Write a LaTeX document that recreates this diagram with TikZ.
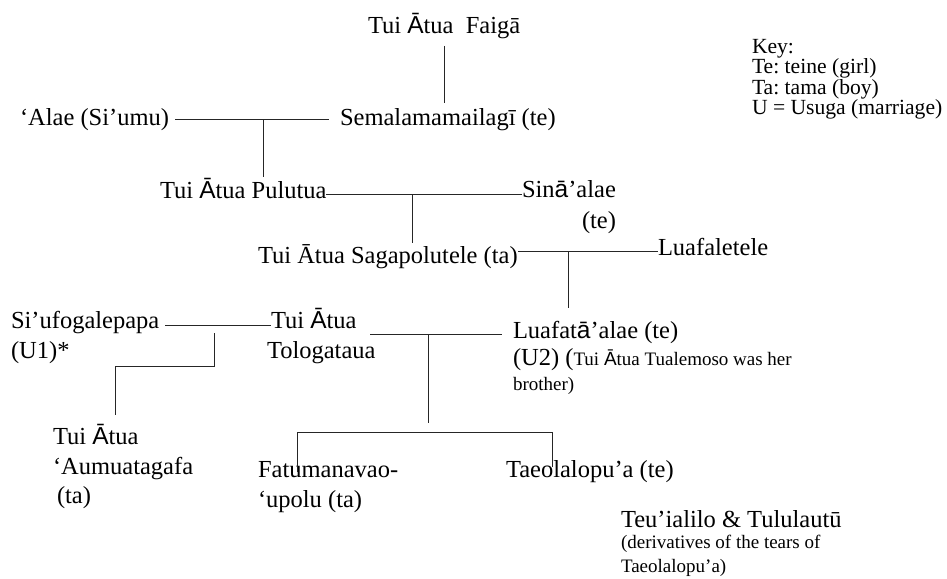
\documentclass[tikz,border=0pt]{standalone}
\usepackage{fontspec}
\setmainfont{Liberation Serif}
\newfontfamily\sa{Liberation Sans}
\newcommand\mainsz{\fontsize{24.5}{30}\selectfont}
\newcommand\keysz{\fontsize{21.6}{20}\selectfont}
\newcommand\smsz{\fontsize{19}{22}\selectfont}
\frenchspacing
\begin{document}
\begin{tikzpicture}[x=1pt,y=-1pt,
  txt/.style={anchor=base west, inner sep=0pt, outer sep=0pt, font=\mainsz},
  keytxt/.style={anchor=base west, inner sep=0pt, outer sep=0pt, font=\keysz},
  smtxt/.style={anchor=base west, inner sep=0pt, outer sep=0pt, font=\smsz},
  link/.style={line width=0.9pt, draw=black!85}]
\useasboundingbox[fill=white] (0,0) rectangle (947,578);

% people
\node[txt] (faiga) at (368,34) {Tui {\sa Ā}tua\ \ Faigā};
\node[txt] (semala) at (340,125) {Semalamamailagī (te)};
\node[txt] (alae) at (20,125) {‘Alae (Si’umu)};
\node[txt] (pulu) at (160,198) {Tui {\sa Ā}tua Pulutua};
\node[txt] (sina) at (522,197) {Sin{\sa ā}’alae};
\node[txt] (sinab) at (582,228) {(te)};
\node[txt] (saga) at (258,263) {Tui Ātua Sagapolutele (ta)};
\node[txt] (luafa) at (658,255) {Luafaletele};
\node[txt] (siuf) at (11,328) {Si’ufogalepapa};
\node[txt] (siufb) at (11,358) {(U1)*};
\node[txt] (tolo) at (271,328) {Tui {\sa Ā}tua};
\node[txt] (tolob) at (267,358) {Tologataua};
\node[txt] (luat) at (513,338) {Luafat{\sa ā}’alae (te)};
\node[txt] (luatb) at (513,365) {(U2) ({\smsz Tui {\sa Ā}tua Tualemoso was her}};
\node[smtxt] (luatc) at (513,390) {brother)};
\node[txt] (aumu) at (53,444) {Tui {\sa Ā}tua};
\node[txt] (aumub) at (53,474) {‘Aumuatagafa};
\node[txt] (aumuc) at (57,503) {(ta)};
\node[txt] (fatu) at (258,477) {Fatumanavao-};
\node[txt] (fatub) at (258,507) {‘upolu (ta)};
\node[txt] (taeo) at (506,477) {Taeolalopu’a (te)};
\node[txt] (teu) at (621,527) {Teu’ialilo \& Tululautū};
\node[smtxt] (teub) at (621,548) {(derivatives of the tears of};
\node[smtxt] (teuc) at (621,572) {Taeolalopu’a)};

% key
\node[keytxt] (k1) at (752,54) {Key:};
\node[keytxt] (k2) at (752,74) {Te: teine (girl)};
\node[keytxt] (k3) at (752,94) {Ta: tama (boy)};
\node[keytxt] (k4) at (752,114) {U = Usuga (marriage)};

% connector points
\coordinate (c1a) at (444,46);   \coordinate (c1b) at (444,103);
\coordinate (c2a) at (175,119);  \coordinate (c2b) at (329,119);
\coordinate (c3a) at (263,119);  \coordinate (c3b) at (263,177);
\coordinate (c4a) at (326,194);  \coordinate (c4b) at (522,194);
\coordinate (c5a) at (412,194);  \coordinate (c5b) at (412,243);
\coordinate (c6a) at (518,251);  \coordinate (c6b) at (658,251);
\coordinate (c7a) at (568,251);  \coordinate (c7b) at (568,308);
\coordinate (c8a) at (165,325);  \coordinate (c8b) at (271,325);
\coordinate (c9a) at (214,333);  \coordinate (c9b) at (214,366);
\coordinate (c9c) at (115,366);  \coordinate (c9d) at (115,415);
\coordinate (c10a) at (370,334); \coordinate (c10b) at (502,334);
\coordinate (c11a) at (428,334); \coordinate (c11b) at (428,423);
\coordinate (c12l) at (297,472); \coordinate (c12m) at (297,432);
\coordinate (c12n) at (552,432); \coordinate (c12r) at (552,467);

\draw[link] (c1a) -- (c1b);
\draw[link] (c2a) -- (c2b);
\draw[link] (c3a) -- (c3b);
\draw[link] (c4a) -- (c4b);
\draw[link] (c5a) -- (c5b);
\draw[link] (c6a) -- (c6b);
\draw[link] (c7a) -- (c7b);
\draw[link] (c8a) -- (c8b);
\draw[link] (c9a) -- (c9b) -- (c9c) -- (c9d);
\draw[link] (c10a) -- (c10b);
\draw[link] (c11a) -- (c11b);
\draw[link] (c12l) -- (c12m) -- (c12n) -- (c12r);
\end{tikzpicture}
\end{document}
